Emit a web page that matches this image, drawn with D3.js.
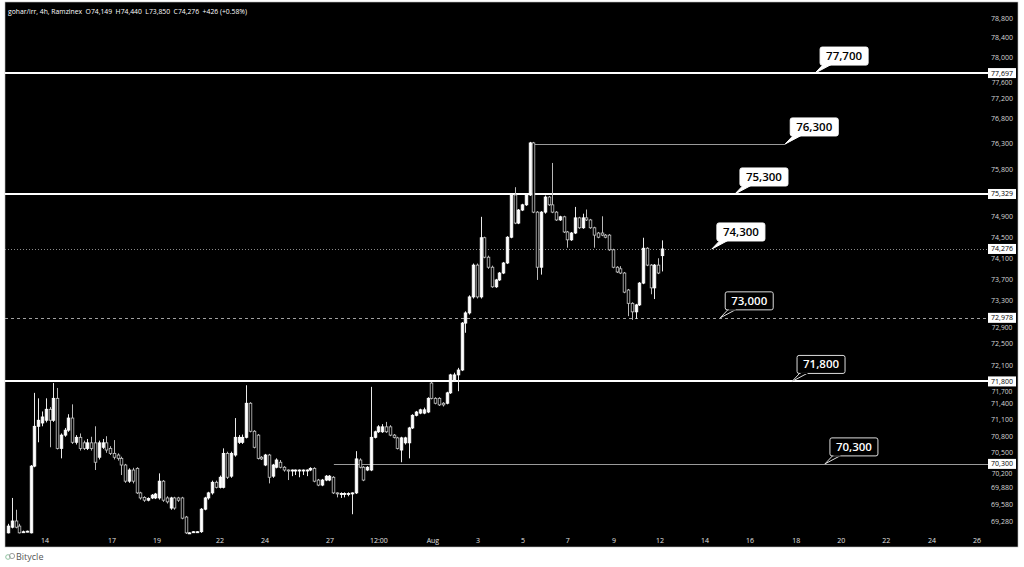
<!DOCTYPE html>
<html><head><meta charset="utf-8">
<script src="https://cdn.jsdelivr.net/npm/d3@7"></script>
<style>body{margin:0;background:#fff;} svg{display:block;font-family:"Open Sans","DejaVu Sans",sans-serif;}</style>
</head><body><svg id="c" width="1024" height="567"></svg>
<script>
const opens=[69070,69170,69280,69190,69090,69090,69070,70260,70980,71040,71090,71290,71090,71490,70580,70820,70910,71130,70690,70780,70680,70580,70680,70680,70420,70600,70680,70580,70490,70460,70400,70280,69990,70190,70220,69780,69700,69650,69690,69690,69690,69990,69690,69510,69690,69690,69690,69350,69070,69080,69090,69090,69490,69690,69780,69970,69880,69880,70490,70080,70460,70690,70690,70780,71400,70890,70820,70420,70280,70460,70080,70240,70330,70240,70190,70190,70190,70190,70190,70190,70190,70220,70010,69920,70010,70010,70060,69780,69770,69770,69770,69770,69780,70370,70240,70190,70190,70780,70880,70880,70970,70970,70820,70770,70550,70680,70680,70950,71180,71220,71220,71240,71770,71490,71490,71400,71400,71590,71830,71920,72010,72880,73070,73370,73970,73370,74490,74120,73930,73560,73690,73820,74010,74500,75310,74770,75020,75120,75310,76320,74980,73930,74980,75270,75120,74980,74830,74890,74600,74450,74580,74870,74680,74870,74830,74680,74580,74580,74540,74540,74260,73930,73900,73820,73500,73250,73090,73220,73630,74290,73970,73540,73970,74149];
const highs=[69230,69690,69480,69230,69110,69110,70280,71590,71490,71250,71490,71330,71770,71680,70850,70950,71200,71380,70820,70850,70720,70750,70790,70980,70720,70750,70800,70620,70730,70490,70430,70300,70220,70230,70240,69800,69720,69700,69760,69780,70130,70010,69720,69710,69710,69710,69710,69370,69080,69100,69100,69510,69710,69800,70000,70000,70090,70580,70520,70520,71130,70820,70830,71730,71420,70910,70840,70440,70480,70480,70300,70400,70370,70260,70200,70200,70200,70200,70200,70200,70240,70240,70030,70030,70100,70100,70080,69790,69790,69790,69790,69790,70530,70400,70260,70260,71700,70900,71000,71020,71060,71000,70840,70790,70790,70790,70970,71200,71260,71300,71320,71510,71790,71510,71510,71420,71610,71940,71960,72050,72900,73100,73400,74000,74000,74890,74510,74150,73960,73710,73840,74030,74520,75330,75460,75040,75140,75330,76340,76340,75000,75000,75300,75290,75930,75000,74910,74910,74620,74600,75080,74890,74950,75030,74850,74700,74600,74900,74560,74560,74280,73950,73950,73840,73520,73270,73240,73650,74490,74310,73990,73990,74100,74440];
const lows=[69060,69150,69150,69060,69080,69080,69060,70240,70690,70980,71050,70600,71060,70560,70400,70790,70880,70660,70650,70540,70550,70550,70540,70190,70380,70570,70500,70460,70380,70360,70100,69960,69960,69950,69760,69660,69620,69630,69670,69670,69660,69620,69590,69480,69480,69620,69310,69050,69060,69070,69070,69070,69470,69660,69750,69860,69860,69860,70030,70050,70430,70660,70660,70760,70870,70580,70380,70370,70260,69950,70050,70220,70220,70160,70010,70080,70100,70060,70100,70080,70170,69970,69900,69900,69990,69990,69760,69700,69690,69700,69720,69400,69760,70220,69990,70170,70170,70760,70860,70860,70860,70800,70760,70560,70330,70650,70400,70930,71160,71200,71200,71220,71470,71380,71350,71340,71380,71570,71810,71620,71990,72700,73040,73340,73340,73340,74100,73900,73540,73540,73670,73800,73990,74480,74750,74750,75000,75100,75290,74960,73690,73790,74950,75100,74960,74810,74810,74580,74300,74430,74560,74660,74660,74810,74660,74300,74480,74520,74480,74240,73910,73820,73800,73440,73010,72940,72960,73200,73610,73950,73420,73330,73800,73850];
const closes=[69190,69280,69170,69070,69090,69100,70260,70980,71090,71150,71290,71090,71490,70580,70820,70910,71130,70690,70780,70580,70580,70680,70580,70330,70680,70680,70550,70490,70420,70400,70280,69990,70190,69990,69780,69690,69650,69680,69740,69760,69990,69650,69620,69690,69510,69650,69330,69070,69070,69090,69090,69490,69690,69780,69970,69880,70060,70490,70060,70490,70780,70780,70780,71400,70890,70600,70400,70390,70460,70060,70280,70370,70240,70190,70180,70190,70190,70190,70190,70190,70220,69990,69920,70010,70080,70080,69780,69770,69770,69770,69770,69780,70390,70240,70010,70240,70780,70880,70970,70970,70880,70820,70780,70580,70770,70770,70950,71180,71240,71280,71280,71490,71490,71400,71370,71370,71590,71920,71920,72010,72880,73070,73370,73970,73370,74490,74120,73930,73560,73690,73820,74010,74500,75310,74770,75020,75120,75310,76320,74980,73930,74980,75270,75120,74980,74830,74890,74600,74450,74580,74870,74680,74870,74830,74680,74540,74500,74540,74500,74260,73930,73840,73820,73460,73250,73090,73220,73630,74290,73970,73540,73970,73820,74276];

const yTicks=[78800,78400,78000,77600,77200,76800,76300,75800,74900,74500,74100,73700,73300,72900,72500,72100,71700,71400,71100,70800,70500,70200,69880,69580,69280];
const xTickPos=[9.8,27.5,39.4,56.1,68,85.2,98.1,112.4,124.3,136.2,148.1,160.3,172.5,184.4,196.3,208.5,220.4,232.3,244.4,256.3];
const xTickLabels=["14","17","19","22","24","27","12:00","Aug","3","5","7","9","12","14","16","18","20","22","24","26"];

const levelPrices=[77697,76300,75329,74276,72978,71800,70300];
const levelLabels=["77,700","76,300","75,300","74,300","73,000","71,800","70,300"];
const levelStart=[null,138,null,null,null,null,86.2];
const calloutAt=[213.5,205.6,192.3,186.2,188.4,207.4,216.1];
const axisMarks=[77697,75329,74276,72978,71800,70300];
const header="gohar/irr, 4h, Ramzinex  O74,149  H74,440  L73,850  C74,276  +426 (+0.58%)";

const svg=d3.select("#c");
const L=5,R=1018,T=2,B=547,plotR=988;
svg.append("rect").attr("x",L).attr("y",T).attr("width",R-L).attr("height",B-T).attr("fill","#000").attr("stroke","#bbb").attr("stroke-width",0.6);

const x=d3.scaleLinear().domain([0,173]).range([8,662]);
const y=d3.scaleLog().domain([69280,78800]).range([521,18]);
const fmt=d3.format(",");

// level lines
const lvStyle=[
 {w:2,c:"#fff",d:null},{w:1,c:"#9a9a9a",d:null},{w:2,c:"#fff",d:null},
 {w:1,c:"#8a8a8a",d:"1,2"},{w:1,c:"#a0a0a0",d:"3,3"},{w:2,c:"#fff",d:null},{w:1,c:"#9a9a9a",d:null}];
levelPrices.forEach((p,i)=>{
  const x0=levelStart[i]==null?L:x(levelStart[i]);
  const x1=i===1?x(calloutAt[i]):plotR;
  const yy=Math.round(y(p))+(lvStyle[i].w===2?0:0.5);
  const ln=svg.append("line").attr("x1",x0).attr("x2",x1).attr("y1",yy).attr("y2",yy)
    .attr("stroke",lvStyle[i].c).attr("stroke-width",lvStyle[i].w);
  if(lvStyle[i].d) ln.attr("stroke-dasharray",lvStyle[i].d);
});

// candles
const g=svg.append("g");
const bw=2.6;
opens.forEach((o,i)=>{
  const c=closes[i],h=highs[i],l=lows[i];
  const cx=Math.round(x(i))+0.5;
  const up=c>=o;
  g.append("line").attr("x1",cx).attr("x2",cx).attr("y1",y(h)).attr("y2",y(l))
    .attr("stroke",up?"#e8e8e8":"#b8b8b8").attr("stroke-width",1);
  const top=y(Math.max(o,c)),bot=y(Math.min(o,c));
  g.append("rect").attr("x",cx-bw/2).attr("y",top).attr("width",bw).attr("height",Math.max(1,bot-top))
    .attr("fill",up?"#ffffff":"#000").attr("stroke",up?"#ffffff":"#c8c8c8").attr("stroke-width",0.8);
});

// y axis labels (ticks that would sit under a price box are pushed just below it)
const yg=svg.append("g");
yTicks.forEach(d=>{
  const cover=axisMarks.find(p=>Math.abs(y(p)-y(d))<8);
  const ty=cover!==undefined? y(cover)+5+7.2 : y(d)+2.5;
  yg.append("text").attr("x",1002).attr("y",ty).attr("text-anchor","middle")
    .attr("font-size",cover!==undefined?6.6:7).attr("fill","#d8d8d8").text(fmt(d));
});
const am=svg.append("g");
axisMarks.forEach(p=>{
  const yy=y(p);
  am.append("rect").attr("x",988).attr("y",yy-5).attr("width",28).attr("height",10).attr("fill","#fff");
  am.append("text").attr("x",1002).attr("y",yy+2.5).attr("text-anchor","middle").attr("font-size",7).attr("fill","#000").text(fmt(p));
});

// x axis labels
svg.append("g").selectAll("text").data(xTickPos).join("text")
  .attr("x",d=>x(d)).attr("y",543).attr("text-anchor","middle").attr("font-size",7)
  .attr("fill","#e0e0e0").text((d,i)=>xTickLabels[i]);

// callouts
levelPrices.forEach((p,i)=>{
  const ax=x(calloutAt[i]),ay=y(p);
  const dark=i>=4;
  const bx=ax+5,by=ay-26,bw2=48,bh=18;
  const cg=svg.append("g");
  cg.append("path").attr("d",`M${ax},${ay} L${bx+3},${by+bh-0.5} L${bx+11},${by+bh-0.5} Z`)
    .attr("fill",dark?"#000":"#fff").attr("stroke",dark?"#ddd":"#fff").attr("stroke-width",1);
  cg.append("rect").attr("x",bx).attr("y",by).attr("width",bw2).attr("height",bh).attr("rx",2)
    .attr("fill",dark?"#000":"#fff").attr("stroke",dark?"#ddd":"#fff").attr("stroke-width",1);
  if(dark) cg.append("line").attr("x1",bx+3.5).attr("x2",bx+10.5).attr("y1",by+bh).attr("y2",by+bh).attr("stroke","#000").attr("stroke-width",1.2);
  cg.append("text").attr("x",bx+bw2/2).attr("y",by+13).attr("text-anchor","middle")
    .attr("font-size",11.5).attr("font-weight","600").attr("fill",dark?"#fff":"#000").text(levelLabels[i]);
});

// header
svg.append("text").attr("x",8).attr("y",14).attr("font-size",6.8).attr("fill","#fff")
  .attr("xml:space","preserve").style("white-space","pre").text(header);

// footer
const fg=svg.append("g");
fg.append("circle").attr("cx",8).attr("cy",557).attr("r",2.3).attr("fill","none").attr("stroke","#8fc3a0").attr("stroke-width",1);
fg.append("circle").attr("cx",12).attr("cy",556).attr("r",2.6).attr("fill","none").attr("stroke","#a0a0a0").attr("stroke-width",1);
fg.append("text").attr("x",16).attr("y",560).attr("font-size",9).attr("fill","#555").text("Bitycle");
</script></body></html>
